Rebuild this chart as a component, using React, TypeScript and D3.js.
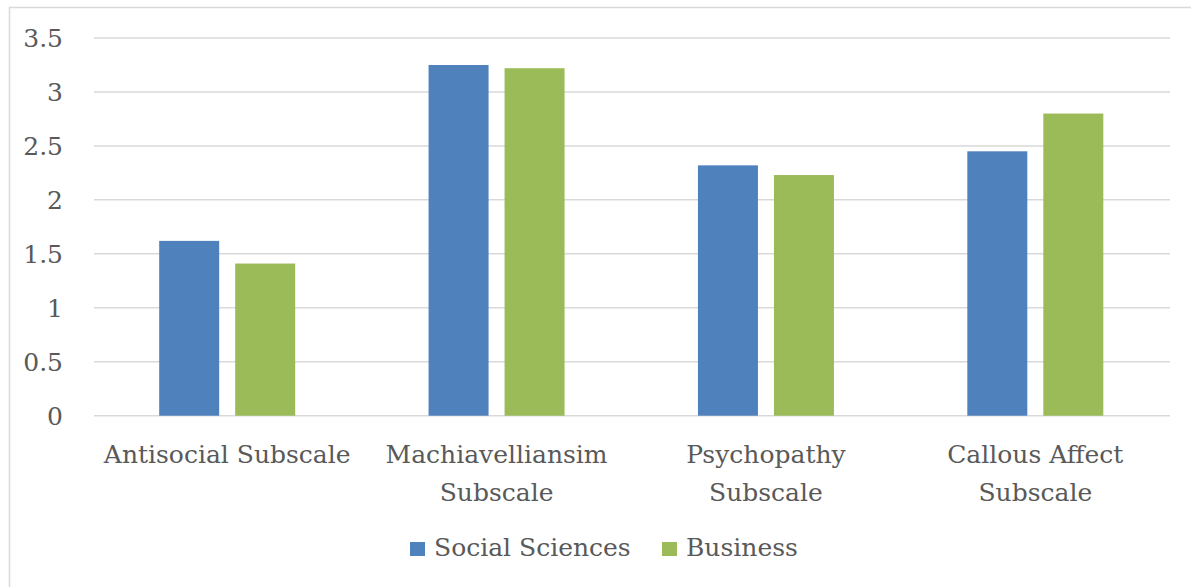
import React from "react";
import * as d3 from "d3";

const categories = [
  ["Antisocial Subscale"],
  ["Machiavelliansim", "Subscale"],
  ["Psychopathy", "Subscale"],
  ["Callous Affect", "Subscale"],
];
const seriesNames = ["Social Sciences", "Business"];
const socialSciences = [1.62, 3.25, 2.32, 2.45];
const business = [1.41, 3.22, 2.23, 2.8];
const yTicks = [0, 0.5, 1, 1.5, 2, 2.5, 3, 3.5];
const colors = ["#4f81bd", "#9bbb59"];

const W = 1191;
const H = 587;
const FONT = "'DejaVu Serif', serif";
const TEXT = "#595959";

export default function App() {
  const keys = categories.map((c) => c.join(" "));
  const x = d3.scaleBand<string>().domain(keys).range([92.5, 1170]).paddingInner(0).paddingOuter(0);
  const inner = d3.scaleBand<string>().domain(seriesNames).range([0, 136]).paddingInner(16 / 76);
  const y = d3.scaleLinear().domain([0, 3.5]).range([415.7, 38]);
  const series = [socialSciences, business];

  return (
    <svg width={W} height={H} style={{ position: "absolute", left: 0, top: 0, background: "#fff" }}>
      <rect x={9.5} y={7.5} width={W + 20} height={H + 20} fill="#fff" stroke="#d9d9d9" strokeWidth={1.5} />
      {yTicks.map((t) => (
        <g key={t}>
          <line x1={94} x2={1170} y1={y(t)} y2={y(t)} stroke="#d9d9d9" strokeWidth={1.5} />
          <text x={63} y={y(t) + 9} textAnchor="end" fontFamily={FONT} fontSize={25} fill={TEXT}>
            {t}
          </text>
        </g>
      ))}
      {keys.map((k, i) => {
        const cx = (x(k) ?? 0) + x.bandwidth() / 2;
        return (
          <g key={k}>
            {series.map((vals, s) => (
              <rect
                key={s}
                x={cx - 68 + (inner(seriesNames[s]) ?? 0)}
                y={y(vals[i])}
                width={inner.bandwidth()}
                height={y(0) - y(vals[i])}
                fill={colors[s]}
              />
            ))}
            {categories[i].map((line, li) => (
              <text key={li} x={cx} y={463 + li * 37.5} textAnchor="middle" fontFamily={FONT} fontSize={25} fill={TEXT}>
                {line}
              </text>
            ))}
          </g>
        );
      })}
      {seriesNames.map((n, s) => {
        const lx = [410, 662][s];
        return (
          <g key={n}>
            <rect x={lx} y={542} width={15} height={14} fill={colors[s]} />
            <text x={lx + 24} y={556} fontFamily={FONT} fontSize={25} fill={TEXT}>
              {n}
            </text>
          </g>
        );
      })}
    </svg>
  );
}
